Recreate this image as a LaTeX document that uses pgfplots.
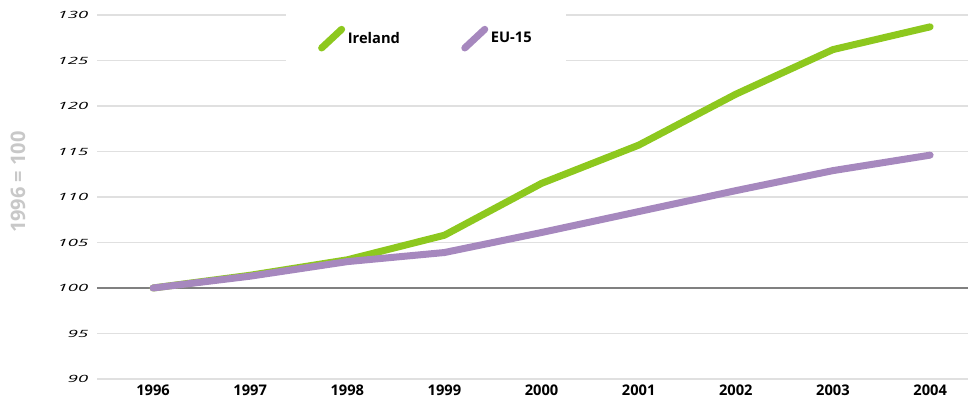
\documentclass[border=0pt]{standalone}
\usepackage{pgfplots}
\pgfplotsset{compat=1.18}
\usepackage{fontspec}
\setmainfont{Open Sans}
\definecolor{irl}{HTML}{8DC81E}
\definecolor{eu}{HTML}{A688BE}
\definecolor{gridc}{HTML}{E0E0E0}
\definecolor{basec}{HTML}{808080}
\definecolor{ylab}{HTML}{C8C8C8}
\newcommand{\ytl}[1]{\scalebox{1.85}[1]{\fontsize{7.5}{9}\selectfont\itshape #1}}
\begin{document}
\begin{tikzpicture}
\begin{axis}[
  at={(0,0)}, anchor=south west,
  scale only axis, width=653.25pt, height=273pt,
  xmin=-0.577, xmax=8.39, ymin=90, ymax=130,
  xtick={0,...,8},
  xticklabels={1996,1997,1998,1999,2000,2001,2002,2003,{\raisebox{-3.75pt}{2004}}},
  ytick={90,95,...,130},
  yticklabels={\ytl{90},\ytl{95},\ytl{100},\ytl{105},\ytl{110},\ytl{115},\ytl{120},\ytl{125},\ytl{130}},
  extra y ticks={100}, extra y tick labels={},
  extra y tick style={grid style={basec, line width=1.5pt}},
  ymajorgrids, grid style={gridc, line width=1.3pt},
  axis line style={draw=none}, major tick length=0pt,
  yticklabel style={xshift=-3pt},
  xticklabel style={font=\bfseries\fontsize{11}{13}\selectfont, yshift=-1pt},
  ylabel={1996 = 100},
  ylabel style={at={(rel axis cs:-0.0907,0.541)}, anchor=center, rotate=0, font=\bfseries\fontsize{15}{17}\selectfont, text=ylab},
  legend columns=2,
  legend style={at={(rel axis cs:0.378,0.935)}, anchor=center, draw=none, fill=white,
    inner xsep=24pt, inner ysep=13pt,
    font=\bfseries\fontsize{11}{13}\selectfont,
    /tikz/every even column/.append style={column sep=44pt}},
  legend image code/.code={\draw[#1, line width=5.25pt, line cap=round] (0pt,-7pt) -- (15pt,7pt);},
]
\addplot[irl, line width=5.25pt, line cap=round, line join=round] coordinates {
(0,100) (1,101.4) (2,103.1) (3,105.8) (4,111.5) (5,115.7) (6,121.3) (7,126.2) (8,128.7)};
\addlegendentry{Ireland}
\addplot[eu, line width=5.25pt, line cap=round, line join=round] coordinates {
(0,100) (1,101.3) (2,102.9) (3,103.9) (4,106.1) (5,108.4) (6,110.7) (7,112.9) (8,114.6)};
\addlegendentry{EU-15}
\end{axis}
\pgfresetboundingbox
\useasboundingbox (-72.75pt,-19.5pt) rectangle (653.25pt,284.25pt);
\end{tikzpicture}
\end{document}
